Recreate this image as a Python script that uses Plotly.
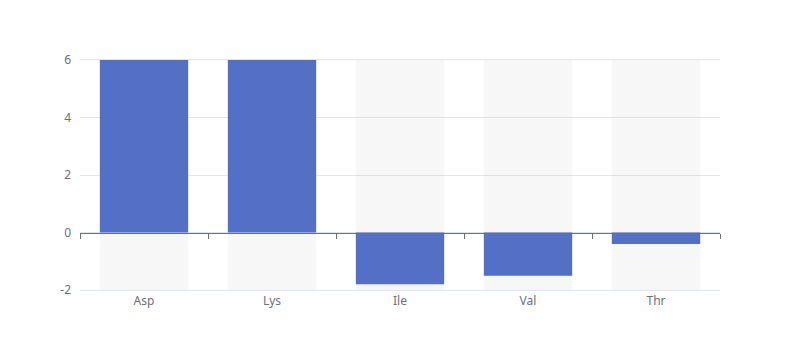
import plotly.graph_objects as go

categories = ["Asp", "Lys", "Ile", "Val", "Thr"]
values = [6, 6, -1.8, -1.5, -0.4]
y_ticks = [-2, 0, 2, 4, 6]
y_tick_labels = ["-2", "0", "2", "4", "6"]

y_min, y_max = -2, 6
bar_color = "#5470c6"
bg_color = "rgba(180,180,180,0.1)"
label_color = "#6e7079"
grid_color = "#e0e6f1"

fig = go.Figure()
fig.add_trace(go.Bar(
    x=categories, y=[y_max - y_min] * len(categories), base=[y_min] * len(categories),
    marker=dict(color=bg_color, line=dict(width=0)), hoverinfo="skip",
    showlegend=False,
))
fig.add_trace(go.Bar(
    x=categories, y=values, marker=dict(color=bar_color, line=dict(width=0)),
    showlegend=False,
))
# invisible trace to host the zero-line axis
fig.add_trace(go.Scatter(x=categories, y=[None] * len(categories), xaxis="x2",
                         mode="markers", showlegend=False, hoverinfo="skip"))

fig.update_layout(
    width=800, height=360,
    margin=dict(l=72, r=88, t=52, b=78),
    paper_bgcolor="white", plot_bgcolor="white",
    barmode="overlay", bargap=0.31,
    font=dict(family="Noto Sans, sans-serif", size=12, color=label_color),
    xaxis=dict(
        type="category", categoryarray=categories, range=[-0.5, len(categories) - 0.5],
        showgrid=False, showline=True, mirror=True, linecolor=grid_color, linewidth=1,
        ticks="", zeroline=False,
        tickfont=dict(size=12, color=label_color),
    ),
    xaxis2=dict(
        type="category", categoryarray=categories, range=[-0.5, len(categories) - 0.5],
        overlaying="x", anchor="free", position=(0 - y_min) / (y_max - y_min),
        showline=True, linecolor=label_color, linewidth=1,
        ticks="outside", tickson="boundaries", ticklen=5, tickcolor=label_color,
        showticklabels=False, showgrid=False, zeroline=False,
    ),
    yaxis=dict(
        range=[y_min, y_max], tickvals=y_ticks, ticktext=y_tick_labels,
        showgrid=True, gridcolor=grid_color,
        gridwidth=1, zeroline=False, showline=False, ticks="",
        tickfont=dict(size=12, color=label_color), ticklabelstandoff=8,
    ),
)

fig.write_html("out.html")
